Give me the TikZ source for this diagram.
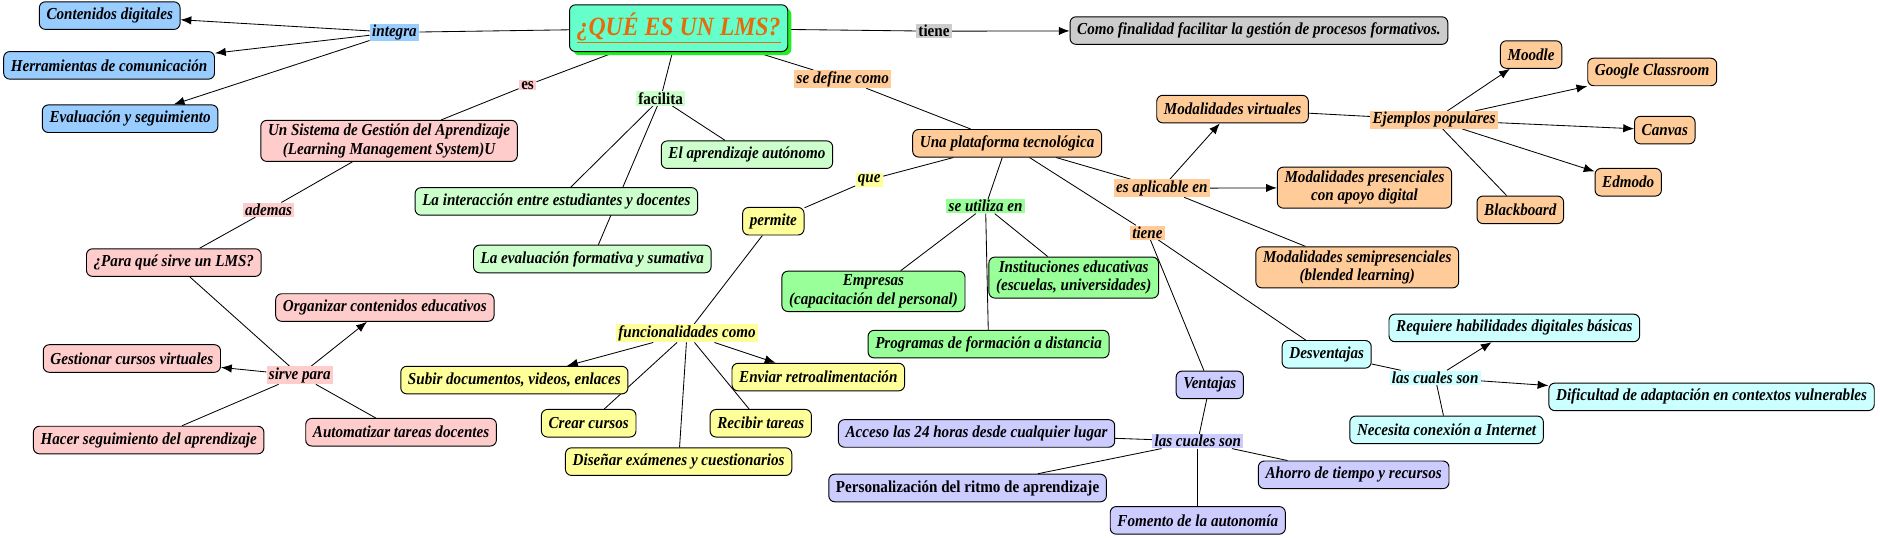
\documentclass[tikz,border=0pt]{standalone}
\usepackage{fontspec}
\setmainfont{Liberation Serif}[FakeStretch=0.9]
\usetikzlibrary{arrows.meta,shadows}
\pgfdeclarelayer{bg}
\pgfsetlayers{bg,main}
\definecolor{cblue}{HTML}{99CCFF}
\definecolor{cmain}{HTML}{66FFCC}
\definecolor{cshadow}{HTML}{22EE22}
\definecolor{ctitle}{HTML}{E46C0A}
\definecolor{cgray}{HTML}{CCCCCC}
\definecolor{cpink}{HTML}{FFCCCC}
\definecolor{clgreen}{HTML}{CCFFCC}
\definecolor{corange}{HTML}{FFCC99}
\definecolor{cyellow}{HTML}{FFFF99}
\definecolor{cgreen}{HTML}{99FF99}
\definecolor{ccyan}{HTML}{CCFFFF}
\definecolor{clav}{HTML}{CCCCFF}
\newcommand{\fs}{\fontsize{14}{15.5}\selectfont}
\tikzset{
  box/.style={draw=black, line width=0.8pt, rounded corners=5pt, inner xsep=6pt, inner ysep=3pt,
    minimum height=23pt, font=\fs\bfseries\itshape, align=center},
  lbl/.style={inner xsep=2pt, inner ysep=1pt, font=\fs\bfseries\itshape},
  ulbl/.style={inner xsep=2pt, inner ysep=1pt, font=\fs\bfseries},
  ln/.style={draw=black, line width=0.7pt},
  ar/.style={ln, -{Latex[length=9pt,width=7pt]}},
}
\begin{document}
\begin{tikzpicture}[x=1pt,y=-1pt]
\useasboundingbox (0,0) rectangle (1568,448);
% main
\node[box, fill=cmain, minimum width=170pt, minimum height=39pt, font=\fontsize{22}{24}\selectfont\bfseries\itshape,
  text=ctitle, drop shadow={shadow xshift=3pt, shadow yshift=-3pt, fill=cshadow, opacity=1}] (main) at (566,23.5) {\underline{¿QUÉ ES UN LMS?}};
% integra
\node[lbl, fill=cblue] (integra) at (329,27) {integra};
\node[box, fill=cblue] (cont) at (91.5,13) {Contenidos digitales};
\node[box, fill=cblue] (herr) at (91,54.5) {Herramientas de comunicación};
\node[box, fill=cblue] (evseg) at (108.5,99) {Evaluación y seguimiento};
% tiene
\node[ulbl, fill=cgray] (tiene1) at (779,26) {tiene};
\node[box, fill=cgray] (fin) at (1050,25.5) {Como finalidad facilitar la gestión de procesos formativos.};
% es
\node[ulbl, fill=cpink] (es) at (440,71) {es};
\node[box, fill=cpink] (sist) at (324.5,117.5) {Un Sistema de Gestión del Aprendizaje\\(Learning Management System)U};
\node[lbl, fill=cpink] (ademas) at (224,175) {ademas};
\node[box, fill=cpink] (para) at (145,219) {¿Para qué sirve un LMS?};
\node[lbl, fill=cpink] (sirve) at (250,313) {sirve para};
\node[box, fill=cpink] (org) at (321,256.5) {Organizar contenidos educativos};
\node[box, fill=cpink] (gest) at (110,299) {Gestionar cursos virtuales};
\node[box, fill=cpink] (hacer) at (124,367) {Hacer seguimiento del aprendizaje};
\node[box, fill=cpink] (autom) at (334.5,360.5) {Automatizar tareas docentes};
% facilita
\node[ulbl, fill=clgreen] (facilita) at (551,82) {facilita};
\node[box, fill=clgreen] (auto) at (623,129) {El aprendizaje autónomo};
\node[box, fill=clgreen] (inter) at (464,168) {La interacción entre estudiantes y docentes};
\node[box, fill=clgreen] (evform) at (494,216) {La evaluación formativa y sumativa};
% se define como
\node[lbl, fill=corange] (sedef) at (703,66) {se define como};
\node[box, fill=corange] (plat) at (840,119.5) {Una plataforma tecnológica};
\node[lbl, fill=corange] (esapl) at (969,157) {es aplicable en};
\node[box, fill=corange] (mvirt) at (1028,91) {Modalidades virtuales};
\node[box, fill=corange] (mpres) at (1138,156.5) {Modalidades presenciales\\con apoyo digital};
\node[box, fill=corange] (msemi) at (1132,223) {Modalidades semipresenciales\\(blended learning)};
\node[lbl, fill=corange] (ejem) at (1196,100) {Ejemplos populares};
\node[box, fill=corange] (moodle) at (1277,45.5) {Moodle};
\node[box, fill=corange] (gclass) at (1378,60) {Google Classroom};
\node[box, fill=corange] (canvas) at (1388.5,108.5) {Canvas};
\node[box, fill=corange] (edmodo) at (1358,152) {Edmodo};
\node[box, fill=corange] (black) at (1268,175) {Blackboard};
% que / permite
\node[lbl, fill=cyellow] (que) at (725,150) {que};
\node[box, fill=cyellow] (permite) at (645,184.5) {permite};
\node[lbl, fill=cyellow] (func) at (573,278) {funcionalidades como};
\node[box, fill=cyellow] (subir) at (429,317) {Subir documentos, videos, enlaces};
\node[box, fill=cyellow] (enviar) at (682.5,314.5) {Enviar retroalimentación};
\node[box, fill=cyellow] (crear) at (491,353) {Crear cursos};
\node[box, fill=cyellow] (recibir) at (634.5,353) {Recibir tareas};
\node[box, fill=cyellow] (disenar) at (566,385) {Diseñar exámenes y cuestionarios};
% se utiliza en
\node[lbl, fill=cgreen] (seutil) at (822,172) {se utiliza en};
\node[box, fill=cgreen] (empr) at (728.5,243) {Empresas\\(capacitación del personal)};
\node[box, fill=cgreen] (inst) at (895.5,231.5) {Instituciones educativas\\(escuelas, universidades)};
\node[box, fill=cgreen] (prog) at (824.5,287) {Programas de formación a distancia};
% tiene 2
\node[lbl, fill=corange] (tiene2) at (957,194) {tiene};
\node[box, fill=clav] (vent) at (1009,321) {Ventajas};
\node[box, fill=ccyan] (desv) at (1106.5,295.5) {Desventajas};
% ventajas
\node[lbl, fill=clav] (cual2) at (999,368) {las cuales son};
\node[box, fill=clav] (acceso) at (814.5,361.5) {Acceso las 24 horas desde cualquier lugar};
\node[box, fill=clav, font=\fs\bfseries] (pers) at (807,407) {Personalización del ritmo de aprendizaje};
\node[box, fill=clav] (ahorro) at (1129,396) {Ahorro de tiempo y recursos};
\node[box, fill=clav] (fomento) at (999,434) {Fomento de la autonomía};
% desventajas
\node[lbl, fill=ccyan] (cual1) at (1197,315) {las cuales son};
\node[box, fill=ccyan] (req) at (1263,273.5) {Requiere habilidades digitales básicas};
\node[box, fill=ccyan] (dif) at (1427.5,331) {Dificultad de adaptación en contextos vulnerables};
\node[box, fill=ccyan] (nec) at (1206.5,358.5) {Necesita conexión a Internet};

\begin{pgfonlayer}{bg}
\draw[ln] (main) -- (integra);
\draw[ar] (integra) -- (cont);
\draw[ar] (integra) -- (herr);
\draw[ar] (integra) -- (evseg);
\draw[ln] (main) -- (tiene1);
\draw[ar] (tiene1) -- (fin);
\draw[ln] (main) -- (es);
\draw[ln] (es) -- (sist);
\draw[ln] (sist) -- (ademas);
\draw[ln] (ademas) -- (para);
\draw[ln] (para) -- (sirve);
\draw[ar] (sirve) -- (org);
\draw[ar] (sirve) -- (gest);
\draw[ln] (sirve) -- (hacer);
\draw[ln] (sirve) -- (autom);
\draw[ln] (main) -- (facilita);
\draw[ln] (facilita) -- (auto);
\draw[ln] (facilita) -- (inter);
\draw[ln] (facilita) -- (evform);
\draw[ln] (main) -- (sedef);
\draw[ln] (sedef) -- (plat);
\draw[ln] (plat) -- (esapl);
\draw[ar] (esapl) -- (mvirt);
\draw[ar] (esapl) -- (mpres);
\draw[ln] (esapl) -- (msemi);
\draw[ln] (mvirt) -- (ejem);
\draw[ar] (ejem) -- (moodle);
\draw[ar] (ejem) -- (gclass);
\draw[ar] (ejem) -- (canvas);
\draw[ar] (ejem) -- (edmodo);
\draw[ln] (ejem) -- (black);
\draw[ln] (plat) -- (que);
\draw[ln] (que) -- (permite);
\draw[ln] (permite) -- (func);
\draw[ar] (func) -- (subir);
\draw[ar] (func) -- (enviar);
\draw[ln] (func) -- (crear);
\draw[ln] (func) -- (recibir);
\draw[ln] (func) -- (disenar);
\draw[ln] (plat) -- (seutil);
\draw[ln] (seutil) -- (empr);
\draw[ln] (seutil) -- (inst);
\draw[ln] (seutil) -- (prog);
\draw[ln] (plat) -- (tiene2);
\draw[ln] (tiene2) -- (vent);
\draw[ln] (tiene2) -- (desv);
\draw[ln] (vent) -- (cual2);
\draw[ln] (cual2) -- (acceso);
\draw[ln] (cual2) -- (pers);
\draw[ln] (cual2) -- (ahorro);
\draw[ln] (cual2) -- (fomento);
\draw[ln] (desv) -- (cual1);
\draw[ar] (cual1) -- (req);
\draw[ar] (cual1) -- (dif);
\draw[ln] (cual1) -- (nec);
\end{pgfonlayer}
\end{tikzpicture}
\end{document}
